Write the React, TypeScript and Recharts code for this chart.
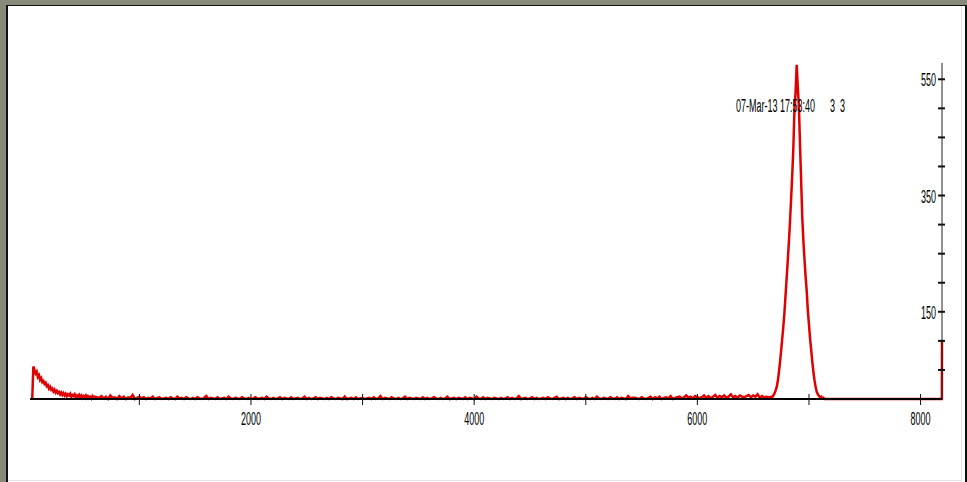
import { LineChart, Line, XAxis, YAxis } from 'recharts';

// spectrum counts per channel, in bins

// leading edge and low-channel decay (10-channel bins from ch 40)
const lowStart = 40;
const lowStep = 10;
const lowCounts = [
  0, 56, 50, 44, 47, 38, 41, 33, 36, 29, 31,
  26, 28, 22, 24, 18, 21, 16, 18, 13, 16,
  11, 14, 10, 12, 8, 11, 7, 10, 6, 9,
  5, 8, 6, 9, 4, 7, 5, 8, 3, 6,
  4, 7, 3, 6, 2, 5, 3, 6, 2, 5,
  3, 4, 1, 5, 2, 4,
];

// flat background (20-channel bins from ch 640)
const midStart = 640;
const midStep = 20;
const midCounts = [
  2, 5, 1, 4, 0, 6, 2, 3, 0, 5,
  1, 4, 0, 3, 2, 7, 0, 2, 4, 1,
  3, 0, 2, 1, 4, 0, 2, 3, 0, 1,
  2, 0, 3, 1, 0, 4, 1, 2, 0, 3,
  1, 0, 2, 0, 3, 1, 0, 2, 5, 0,
  2, 1, 0, 3, 0, 1, 2, 0, 4, 1,
  0, 2, 1, 0, 3, 1, 0, 2, 0, 1,
  3, 0, 1, 2, 0, 4, 1, 0, 2, 0,
  1, 3, 0, 2, 1, 0, 3, 0, 1, 2,
  0, 1, 4, 0, 2, 0, 1, 3, 0, 2,
  1, 0, 2, 0, 3, 1, 0, 2, 1, 0,
  4, 0, 1, 2, 0, 3, 0, 1, 2, 0,
  1, 2, 0, 3, 0, 1, 5, 0, 2, 1,
  0, 3, 1, 0, 2, 0, 1, 4, 0, 2,
  1, 0, 2, 1, 0, 3, 0, 2, 0, 1,
  3, 1, 0, 2, 0, 1, 4, 0, 1, 2,
  0, 2, 1, 0, 3, 0, 2, 1, 0, 4,
  1, 0, 3, 0, 2, 1, 0, 2, 1, 0,
  2, 0, 1, 3, 0, 2, 0, 1, 5, 0,
  1, 2, 0, 1, 3, 0, 2, 0, 1, 2,
  0, 3, 1, 0, 2, 4, 0, 1, 2, 0,
  2, 0, 1, 3, 0, 2, 1, 0, 3, 1,
  0, 2, 0, 4, 1, 0, 2, 1, 0, 3,
  1, 0, 3, 0, 2, 1, 0, 5, 1, 2,
  2, 1, 0, 3, 1, 0, 2, 4, 0, 3,
  1, 4, 0, 2, 3, 1, 5, 0, 2, 3,
  4, 1, 3, 6, 2, 4, 1, 5, 3, 2,
  3, 6, 2, 5, 1, 4, 7, 2, 5, 3,
  6, 2, 4, 8, 3, 5, 2, 6, 4, 3,
  5, 7, 3, 6, 4, 8, 2, 5, 3, 4,
];

// main peak (10-channel bins from ch 6640)
const peakStart = 6640;
const peakStep = 10;
const peakCounts = [
  3, 2, 4, 3, 6, 9, 14, 20, 30, 45,
  62, 82, 103, 124, 148, 178, 208, 238, 270, 305,
  345, 385, 432, 498, 528, 575, 536, 502, 436, 375,
  312, 272, 240, 210, 185, 152, 128, 104, 84, 64,
  46, 32, 20, 12, 8, 5, 3, 4, 1, 2,
  0,
];

// empty high channels, last channel holds the overflow
const tailChannels = [7200, 7600, 8000, 8191, 8192];
const tailCounts = [0, 0, 0, 0, 101];

const xTicks = [1000, 2000, 3000, 4000, 5000, 6000, 7000, 8000];
const xLabelled = [2000, 4000, 6000, 8000];
const yTicks = [50, 100, 150, 200, 250, 300, 350, 400, 450, 500, 550];
const yLabelled = [150, 350, 550];

const stamp = '07-Mar-13 17:53:40      3  3';

const bins = (start: number, step: number, counts: number[]) =>
  counts.map((c, i) => ({ ch: start + i * step, counts: c }));

const data = [
  ...bins(lowStart, lowStep, lowCounts),
  ...bins(midStart, midStep, midCounts),
  ...bins(peakStart, peakStep, peakCounts),
  ...tailChannels.map((ch, i) => ({ ch, counts: tailCounts[i] })),
];

const font = { fontFamily: '"Liberation Sans", Arial, sans-serif', fontSize: 18, fill: '#000' };

const XTick = ({ x, y, payload }: any) => (
  <g>
    <line x1={x} x2={x} y1={y - 5} y2={y + 6} stroke="#111" strokeWidth={1} />
    {xLabelled.includes(payload.value) && (
      <text {...font} textAnchor="middle" transform={`translate(${x},${y + 26}) scale(0.5,1)`}>
        {payload.value}
      </text>
    )}
  </g>
);

const YTick = ({ x, y, payload }: any) => (
  <g>
    <line x1={x - 4} x2={x + 3} y1={y} y2={y} stroke="#111" strokeWidth={2} />
    {yLabelled.includes(payload.value) && (
      <text {...font} textAnchor="end" transform={`translate(${x - 6},${y + 7}) scale(0.5,1)`}>
        {payload.value}
      </text>
    )}
  </g>
);

export default function App() {
  return (
    <div style={{ position: 'absolute', left: 0, top: 0, width: 967, height: 482, background: '#878a78', overflow: 'hidden' }}>
      <div
        style={{
          position: 'absolute', left: 6, top: 5, width: 961, height: 477, boxSizing: 'border-box',
          background: '#fff', borderLeft: '2px solid #111', borderTop: '1px solid #111', borderRight: '2px solid #111',
        }}
      >
        <div style={{ position: 'absolute', left: 0, top: 0, right: 3, bottom: 1, borderRight: '1px solid #e4e4e4', borderBottom: '1px solid #e4e4e4' }} />
      </div>
      <div style={{ position: 'absolute', left: 0, top: 0 }}>
        <LineChart width={967} height={482} data={data} margin={{ top: 63, right: 25, bottom: 53, left: 30 }}>
          <XAxis
            type="number"
            dataKey="ch"
            domain={[20, 8192]}
            ticks={xTicks}
            interval={0}
            height={30}
            tickSize={0}
            tickMargin={0}
            tickLine={false}
            tick={<XTick />}
            axisLine={{ stroke: '#000', strokeWidth: 2 }}
          />
          <YAxis
            type="number"
            orientation="right"
            mirror
            domain={[0, 578]}
            ticks={yTicks}
            interval={0}
            width={40}
            tickSize={0}
            tickMargin={0}
            tickLine={false}
            tick={<YTick />}
            axisLine={{ stroke: '#222', strokeWidth: 1 }}
          />
          <Line
            type="linear"
            dataKey="counts"
            stroke="#e00000"
            strokeWidth={2.5}
            dot={false}
            isAnimationActive={false}
          />
        </LineChart>
      </div>
      <svg width={967} height={482} style={{ position: 'absolute', left: 0, top: 0, pointerEvents: 'none' }}>
        <text {...font} style={{ whiteSpace: 'pre' }} transform="translate(736,112) scale(0.5,1)">
          {stamp}
        </text>
      </svg>
    </div>
  );
}
